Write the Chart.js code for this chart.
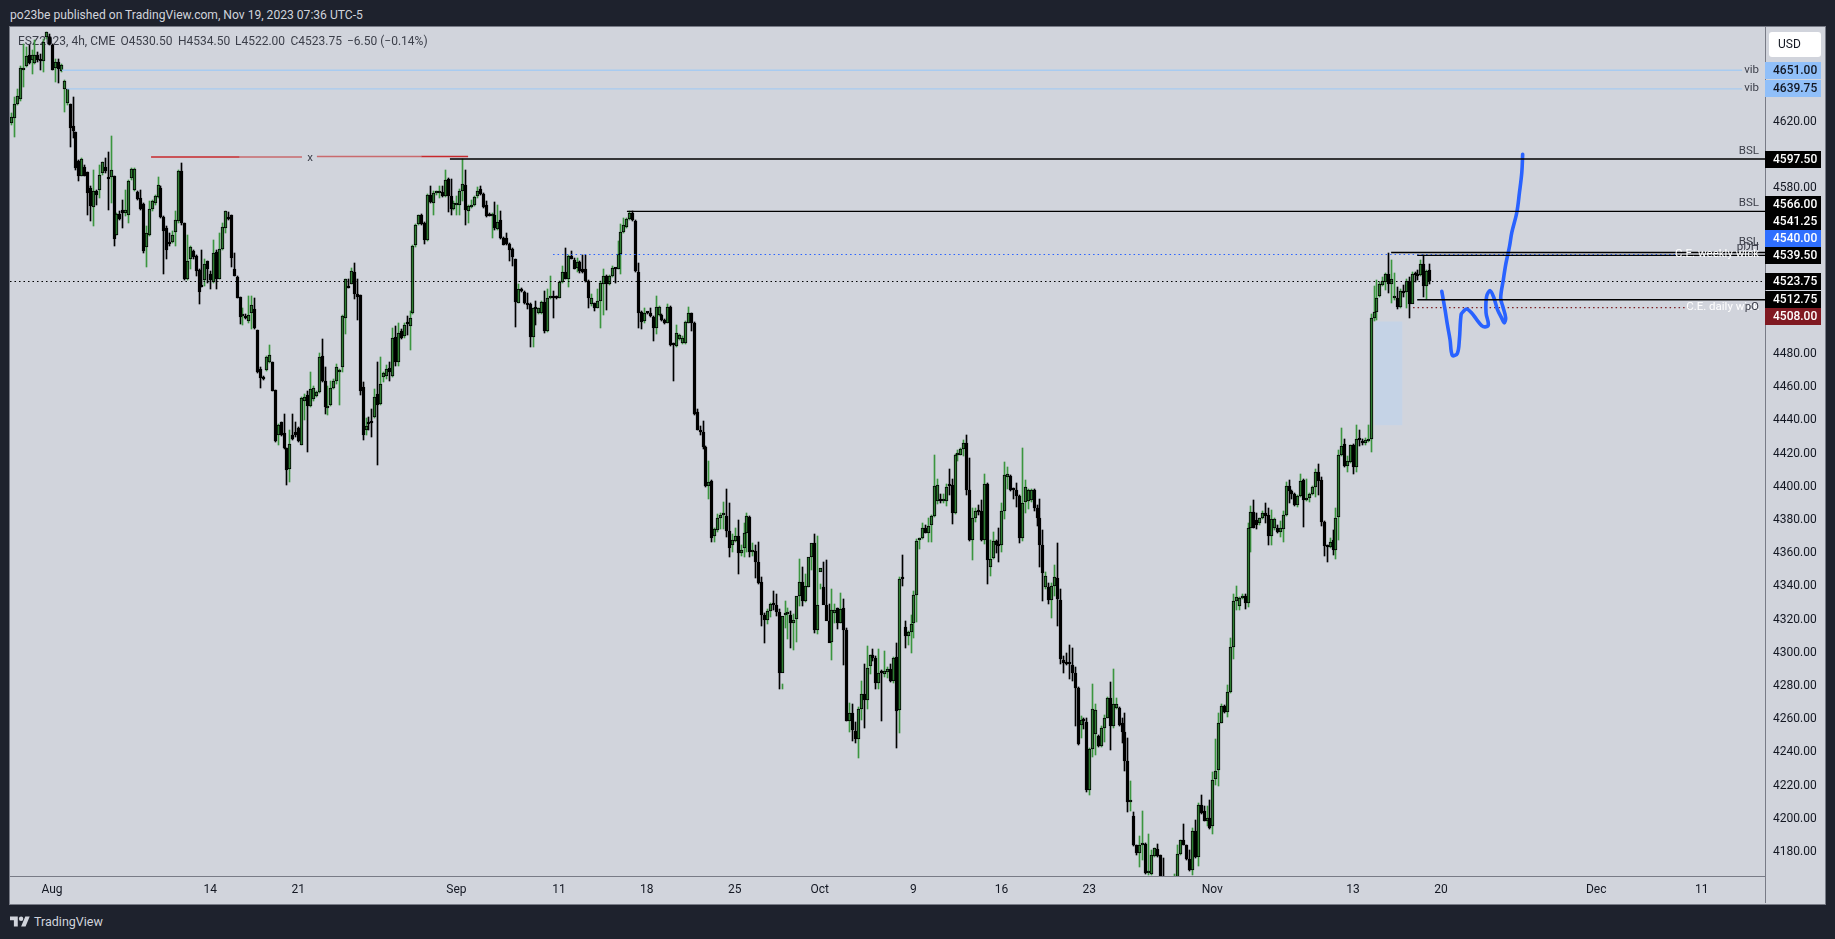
<!DOCTYPE html>
<html>
<head>
<meta charset="utf-8">
<title>ESZ2023 4h</title>
<script src="https://cdn.jsdelivr.net/npm/chart.js@4/dist/chart.umd.min.js"></script>
<style>
  html, body { margin: 0; padding: 0; width: 1835px; height: 939px; overflow: hidden; background: #1e222d; font-family: Roboto, "Open Sans", sans-serif; }
  #top { position: absolute; left: 10px; top: 6px; color: #d1d4dc; font-size: 12.1px; line-height: 18px; white-space: nowrap; }
  #pane { position: absolute; left: 9px; top: 26px; width: 1815px; height: 877px; border: 1px solid #787b86; background: #d1d4dc; }
  #chart { display: block; background: #d1d4dc; }
  #logo { position: absolute; left: 10px; top: 914px; }
  #brand { position: absolute; left: 34px; top: 912px; color: #d1d4dc; font-size: 12.5px; line-height: 20px; }
</style>
</head>
<body>
<div id="top">po23be published on TradingView.com, Nov 19, 2023 07:36 UTC-5</div>
<div id="pane"><canvas id="chart" width="1814" height="876"></canvas></div>
<svg id="logo" width="20" height="16" viewBox="0 0 36 28"><path fill="#d1d4dc" d="M14 22H7V11H0V4h14v18zM28 22h-8l7.5-18h8L28 22z"/><circle fill="#d1d4dc" cx="20" cy="8" r="4"/></svg>
<div id="brand">TradingView</div>
<script>
// 4h candles
const opens = [
4619,4622,4630.5,4633.5,4651,4653.5,4660,4657,4655.5,4660,
4657,4656.5,4671,4671,4666,4652.5,4656,4650.5,4640,4631.5,
4630.5,4617.5,4614,4596.5,4587.5,4593,4590,4580,4568.5,4578.5,
4579,4589,4592.5,4586.5,4586.5,4587.5,4552,4564.5,4567,4565,
4563.5,4586,4579,4577.5,4574,4570.5,4544.5,4551.5,4567.5,4571,
4574.5,4580,4562.5,4556,4547.5,4547.5,4553.5,4560,4590.5,4559,
4525.5,4537.5,4542,4539,4530.5,4521.5,4524.5,4536,4528.5,4523.5,
4541.5,4525.5,4543.5,4556,4562.5,4564,4531.5,4526.5,4514.5,4503,
4503,4500,4505,4507,4494.5,4471,4466.5,4470.5,4475,4475.5,
4458.5,4431,4439,4432.5,4423.5,4410.5,4431,4433,4435.5,4425.5,
4452,4455.5,4449,
4453,4455,4457,4479,4464,4447.5,4449.5,4459.5,4463.5,4469,
4472,4502,4521,4522.5,4529.5,4516,4515.5,4460,4434,4438.5,
4439,4442,4456,4450,4466.5,4467,4471.5,4467,4490.5,4475.5,
4494,4491,4498.5,4497,4504.5,4545.5,4558.5,4564,4559,4548.5,
4576,4571,4577,4577,4577.5,4575,4585.5,4575,4567.5,4570,
4570,4578,4582,4566.5,4568.5,4570,4575,4579.5,4576.5,4570,
4563.5,4563,4563.5,4555.5,4560.5,4550,4550,4546.5,4543.5,4537.5,
4511,4519,4517.5,4510,4510,4490.5,4507.5,4504.5,4504.5,4511.5,
4494,4513.5,4514,4514,4514,4523.5,4529.5,4525.5,4539,4536.5,
4532,4535.5,4531.5,4531.5,4524,4510,4510.5,4508,4512,4522.5,
4527,4522,4527,4532,4531.5,4540.5,4553.5,4556.5,4561.5,4565,
4560,4529.5,4505.5,4500,4505,4505,4502.5,4495.5,4503.5,4503.5,
4500.5,4499,4508.5,4486,4485,4489,4486.5,4486.5,4499,4504.5,
4498.5,4445,4434.5,4433,4424,4400.5,4403.5,4370.5,4374,4381.5,
4383,4382.5,4373.5,4365,4367.5,4370.5,4360,4363,4372,4382,
4361,4361.5,4354.5,4342.5,4323,4320,4325.5,4330,4329,4324.5,
4288,4323,4323.5,4323,4318,4320.5,4334.5,4342.5,4331.5,4339.5,
4358,4366.5,4313.5,4349,4339.5,4329,4319,4306.5,4324,4327,
4318,4327,4313.5,4259,4263.5,4253,4248,4266,4275,4271.5,
4292,4298.5,4297,4282,4288.5,4287.5,4288.5,4290.5,4283,4297.5,
4265.5,4345.5,4315.5,4310,4312.5,4318,4335,
4368,4369,4375.5,4372.5,4377,4382.5,4391.5,4392,4391.5,4391.5,
4401,4401,4384,4419.5,4419.5,4423,4426.5,4398,4368,4381,
4385.5,4385.5,4368,4402,4351.5,4357,4367.5,4365,4365,4385.5,
4406,4406.5,4398.5,4398,4394.5,4369,4391,4391.5,4392,4398,
4387,4381,4365,4339.5,4339.5,4332,4340,4345,4332,4295.5,
4294,4294,4293,4288,4279,4256.5,4259.5,4258.5,4217.5,4242,
4251,4250,4244,4254.5,4261,4273,4256,4267,4267,4257.5,
4252.5,4235,4210,4202,4184,4179.5,4184,4185,4167.5,4167,
4177.5,4182,4178,4165,4160,4155,4158,4159,4162,4179,
4187,4184,4176,4169,4193,4177,4208.5,4204.5,4199,4200.5,
4195.5,4224,4229.5,4258,4268,4264.5,4276.5,4303.5,4331.5,4328,
4333,4334,4330,4375.5,4385,4380,4378,4381,4384,4383,
4370.5,4375.5,4375.5,4373,4374.5,4383,4400.5,4397.5,4395.5,4389,
4394.5,4404,4392,4393.5,4395.5,4400,4409,4404,4379,4364.5,
4363.5,4368,4362,4382,4419.5,4426,4412.5,4415,4425,4412,
4428.5,4427.5,4426.5,4427.5,4429,4502,4505.5,4515,4521.5,4523.5,
4528,4522,4514,4514,4508.5,4518,4517.5,4524,4510,4528,
4527.5,4527.5,4534,4521,4530.5
];
const highs = [
4625,4635,4640,4653.5,4667,4665,4666,4663,4669,4662,
4661,4670,4674,4673,4667,4658,4658,4655,4645,4640,
4630.5,4635,4614,4597,4598,4594,4590,4581,4591,4579,
4594,4596,4598,4602,4611.5,4587.5,4565,4566,4573,4579,
4585,4592,4592,4578,4579,4571,4557,4572,4573,4576,
4586.5,4581,4563,4557,4553,4554,4566,4591,4595,4559,
4552,4545,4542.5,4539.5,4531,4542.5,4537,4536,4530,4549,
4543,4553,4559,4566.5,4565.5,4564,4541,4527,4514.5,4508,
4504,4515,4515,4514,4494.5,4472,4467,4479,4485.5,4475.5,
4458.5,4438,4439,4444,4423.5,4434,4444,4439,4436,4454,
4456,4458,4469.5,
4461,4458,4480.5,4489,4472,4461,4463.5,4465,4474,4471,
4503.5,4525.5,4525.5,4532,4535,4525.5,4515.5,4463,4441.5,4442,
4447,4459,4475.5,4478,4469,4473.5,4475,4495.5,4497,4498.5,
4495,4498.5,4503,4506,4545.5,4558.5,4564,4564.5,4559.5,4576.5,
4581,4578,4578,4581.5,4581.5,4591,4586,4585.5,4572,4575,
4579.5,4597.5,4591,4570,4573,4575,4580.5,4581.5,4577,4572,
4565,4565,4571.5,4570,4566.5,4550.5,4553,4547,4544,4537.5,
4522,4520,4518,4517,4510.5,4508,4512,4508,4512,4518,
4519,4527,4518,4515,4524,4533,4544,4539.5,4542,4538,
4538,4536,4539.5,4540,4524.5,4516,4511,4519,4524,4531,
4527.5,4527.5,4533,4532,4548,4558.5,4562,4562,4566,4566,
4560.5,4535,4506,4507.5,4505.5,4508,4503,4515,4509,4504,
4501,4510,4509,4486.5,4497.5,4492,4491,4500,4508.5,4505,
4499.5,4447,4436.5,4439.5,4424.5,4415.5,4404,4375,4383.5,4384.5,
4391,4399,4390,4371.5,4375,4380,4365,4378.5,4384,4382.5,
4366,4365,4367,4345.5,4324,4326.5,4330,4337,4335.5,4326.5,
4278,4331,4327,4325,4323.5,4329,4356.5,4351.5,4347.5,4344,
4359.5,4371.5,4370.5,4341.5,4354.5,4356,4329.5,4338.5,4329.5,4327,
4336,4332.5,4315,4270,4269,4258.5,4267.5,4283,4293.5,4304,
4299,4302.5,4298,4302.5,4289.5,4301,4291.5,4293.5,4297.5,4306,
4345.5,4359,4319,4313,4323,4337,4368.5,
4369.5,4378,4377,4381.5,4383,4419.5,4404.5,4396,4395.5,4402,
4411,4404.5,4420,4422.5,4423.5,4428,4431,4417.5,4387,4387,
4389,4392,4408,4402.5,4368,4373,4368,4375,4390,4415,
4412,4407,4399.5,4402.5,4395,4423.5,4404,4399,4399,4399,
4389,4393,4374,4349,4342,4342,4353,4366.5,4338.5,4298,
4300,4305,4303,4291.5,4279.5,4262,4260.5,4260.5,4242.5,4281,
4269.5,4250.5,4256,4262.5,4273.5,4282.5,4290,4273,4267.5,4260.5,
4263.5,4248.5,4223,4204,4184.5,4189.5,4205,4185.5,4191,4181,
4182.5,4185,4178.5,4176.5,4164,4163,4164,4167,4184,4187.5,
4197,4184.5,4181.5,4194.5,4199.5,4209.5,4214.5,4207.5,4207.5,4211.5,
4228.5,4248,4264,4269.5,4268.5,4280.5,4309,4335.5,4340,4333.5,
4335.5,4335.5,4378.5,4388.5,4392,4384,4381.5,4385.5,4390,4387,
4386,4381,4377,4379.5,4385.5,4403,4404,4398,4396.5,4395,
4408,4405,4405,4396.5,4400.5,4410.5,4413.5,4406,4379.5,4365,
4369,4374,4387,4422.5,4435.5,4429,4418.5,4425.5,4426,4437,
4434.5,4429,4429.5,4437.5,4504,4521,4524.5,4523.5,4526.5,4529,
4541,4536.5,4529,4520.5,4519,4521.5,4525.5,4526.5,4529.5,4529.5,
4530.5,4536.5,4539.5,4530.5,4534.5
];
const lows = [
4618,4610.5,4630,4632.5,4641,4653,4654.5,4649,4655,4656,
4651,4650,4670,4666,4651,4644,4643.5,4650,4626,4630,
4605,4610,4591,4584,4587,4587,4564,4560,4557,4570,
4574,4588,4589,4567,4571,4545,4551.5,4561,4556,4563,
4559,4585,4578,4573,4567,4541,4532.5,4551,4566,4570,
4574,4562,4528.5,4537,4545,4547,4545,4559,4558,4524.5,
4524.5,4531,4537,4527,4510,4520.5,4521,4523,4519,4523,
4519,4525,4543,4553,4561,4532.5,4527,4514,4498,4497.5,
4501,4499,4495,4495,4468.5,4459.5,4464.5,4470,4474.5,4457.5,
4427,4425.5,4430.5,4423,4401,4403,4428,4430,4427,4425,
4440,4421,4448,
4452,4454,4456.5,4463,4444,4443.5,4449,4459,4462,4449.5,
4469.5,4492,4520,4522,4513,4500.5,4455.5,4428,4431,4434,
4430,4441.5,4413,4449.5,4463,4465,4464,4466.5,4473,4473,
4489,4490,4491.5,4482.5,4504,4544.5,4558,4558,4546.5,4548,
4571,4564,4576,4574,4574.5,4574.5,4565.5,4563.5,4567,4564,
4564,4572,4557.5,4559,4568,4569.5,4574,4576,4568,4562.5,
4563,4550,4555,4555,4549.5,4545.5,4545.5,4536,4533,4496.5,
4510.5,4517.5,4510,4507,4484.5,4484.5,4497.5,4504,4504,4493,
4493.5,4513,4501.5,4513,4513.5,4523,4525,4520.5,4537,4531,
4529.5,4529,4529,4523.5,4508,4509,4506,4507.5,4496,4503.5,
4506.5,4521.5,4526.5,4523,4531,4528.5,4553,4556,4561,4560,
4529.5,4496,4495,4499,4504,4502.5,4488,4492,4503,4500,
4498,4498.5,4485,4463.5,4484,4488.5,4486,4486,4498.5,4494,
4443.5,4434,4431.5,4423,4400,4393,4367,4367,4373,4374.5,
4374.5,4370,4358,4361,4367,4347.5,4358.5,4357.5,4360.5,4358,
4358.5,4345,4341.5,4316,4306,4317.5,4321.5,4326,4322,4278,
4281,4315,4308.5,4303,4301.5,4306.5,4328.5,4328.5,4330.5,4339.5,
4350,4312,4311.5,4338.5,4339,4327,4309.5,4296,4318,4314.5,
4318,4293,4259,4252.5,4247,4245.5,4236.5,4259.5,4255,4266,
4287,4295,4278,4278.5,4259,4285.5,4285,4282.5,4282,4243,
4252,4340.5,4303,4304.5,4300,4309,4318.5,
4362.5,4368.5,4372,4367,4367,4382,4389.5,4390,4390.5,4388.5,
4395,4377.5,4383.5,4415.5,4419,4418.5,4395,4367.5,4356,4379,
4383,4367.5,4365.5,4341.5,4346.5,4356.5,4360,4355,4361,4380.5,
4399,4397.5,4393,4388,4366,4367.5,4384.5,4386.5,4391,4385.5,
4376.5,4352,4331.5,4338.5,4329.5,4321,4334.5,4316,4293.5,4288,
4293,4284,4283,4256,4244.5,4248.5,4254,4216.5,4214.5,4237,
4238.5,4243.5,4243.5,4246.5,4260.5,4241.5,4255,4266,4256,4246,
4229,4204,4204.5,4183.5,4178,4171,4175,4167,4166.5,4166.5,
4177,4177,4165,4155,4152,4152,4156,4156.5,4160,4178,
4184,4175.5,4168.5,4166.5,4176.5,4171.5,4203,4198.5,4195.5,4194,
4191,4220.5,4220,4257.5,4264,4261.5,4276,4296.5,4326,4326,
4332.5,4326.5,4327.5,4361,4375,4374.5,4377,4380.5,4378.5,4365,
4365,4374,4372.5,4370,4367,4382.5,4390,4393,4388.5,4388,
4394,4376,4391.5,4391,4395,4394,4395,4376.5,4358.5,4355,
4363,4359,4356.5,4368,4418.5,4412,4409,4414.5,4407.5,4409,
4424.5,4425.5,4425.5,4427,4421,4500,4500.5,4514.5,4521,4518.5,
4517,4511,4512.5,4507,4508,4514.5,4507.5,4502,4523,4523.5,
4524.5,4527,4514.5,4513,4522
];
const closes = [
4623,4630.5,4635.5,4652.5,4652.5,4659.5,4655.5,4660,4660,4657,
4656.5,4668,4674,4667,4651,4656,4652,4654,4644.5,4640,
4616,4614.5,4592,4587,4597.5,4587.5,4577,4569.5,4578.5,4576,
4588,4595.5,4590.5,4585.5,4591,4549.5,4564.5,4561.5,4565,4567,
4584.5,4591.5,4591.5,4573.5,4567.5,4542,4553,4567.5,4572,4575.5,
4582,4562.5,4554,4542.5,4546.5,4552,4561,4590.5,4559,4525.5,
4536,4544.5,4538.5,4530,4517.5,4520.5,4534,4531,4524.5,4541,
4525.5,4543.5,4556.5,4566,4561.5,4538,4527,4514,4502.5,4504,
4501.5,4503.5,4509.5,4495.5,4469,4465.5,4465,4478.5,4479.5,4458,
4427.5,4437.5,4431,4423.5,4410,4426,4429,4431,4427.5,4453.5,
4454,4449,4459,
4459.5,4457,4478,4464,4448,4448.5,4459.5,4463.5,4472,4470.5,
4503,4525,4520,4530,4516,4514.5,4458,4431,4436.5,4438,
4438.5,4454,4449.5,4462,4468.5,4471,4469,4489.5,4475,4493,
4490,4497.5,4498,4502,4545,4558,4564,4558.5,4548.5,4576,
4571.5,4577,4577.5,4577.5,4575,4585,4575,4567.5,4571,4571,
4578.5,4582.5,4567,4569,4570,4574.5,4578,4576.5,4568.5,4563,
4563,4563.5,4556,4559.5,4550,4546,4546.5,4543,4538.5,4511.5,
4519.5,4518,4510.5,4509.5,4490.5,4507.5,4507,4507.5,4511.5,4494,
4514,4514,4513.5,4513.5,4523.5,4529.5,4525.5,4539,4537.5,4531.5,
4535.5,4530,4529.5,4524,4514,4513.5,4507.5,4512,4523,4527,
4522.5,4527,4532,4531.5,4540.5,4553.5,4558,4561.5,4565,4560.5,
4530,4505,4499.5,4505,4504.5,4503,4495.5,4508.5,4508.5,4500.5,
4498.5,4508.5,4485.5,4485.5,4492.5,4491.5,4490,4499.5,4504.5,4499,
4444,4434.5,4433,4424,4400.5,4403,4369.5,4374.5,4381.5,4383,
4383,4373.5,4363,4368,4370.5,4360,4362,4372,4382.5,4361,
4362,4354.5,4342,4323,4320,4325.5,4329.5,4329,4324.5,4288,
4322,4324,4324,4318,4320,4334.5,4342.5,4331,4340,4358,
4366.5,4313.5,4329,4351,4329,4319,4306,4326,4326,4318,
4326.5,4313.5,4259,4263.5,4253.5,4248,4266,4275,4271.5,4291,
4298.5,4297,4282,4288,4288,4289,4290.5,4283,4297,4265,
4344.5,4344.5,4310,4312.5,4317.5,4335,4367.5,
4369,4375,4372.5,4376.5,4382.5,4400.5,4401,4391.5,4392,4400,
4400.5,4384,4419.5,4419.5,4423,4426.5,4398,4368,4381,4385.5,
4385,4368,4402,4356,4356.5,4367.5,4365,4364.5,4385.5,4407,
4408,4398,4398,4394.5,4369,4390,4400,4398,4398,4387,
4381,4365,4348,4346.5,4332,4340.5,4346,4332.5,4296.5,4294,
4293.5,4293.5,4288,4279,4245,4259.5,4259,4217.5,4242,4266,
4265.5,4244,4254.5,4261,4273,4256,4269.5,4269,4256.5,4252.5,
4235,4210,4210.5,4184,4179.5,4184,4185.5,4167.5,4167.5,4178,
4182.5,4177.5,4165.5,4160,4157,4159,4162,4164,4179,4187,
4184.5,4176,4169,4193,4177,4208.5,4203.5,4199,4200.5,4194.5,
4223.5,4229,4257.5,4268,4264.5,4276.5,4303.5,4331.5,4333.5,4333,
4334,4330,4375.5,4385,4375.5,4377,4381,4384,4382.5,4370.5,
4380.5,4380.5,4373,4375,4383,4400.5,4397.5,4395.5,4389,4394.5,
4403.5,4392,4393.5,4396,4400,4409,4403.5,4379,4364.5,4363.5,
4367,4362,4381.5,4419.5,4424.5,4412.5,4415.5,4425,4412,4429,
4428,4426.5,4428,4429,4502,4505.5,4514,4522,4524,4528,
4522,4525,4514,4508.5,4518,4517,4524,4510,4528.5,4527.5,
4527,4534,4521,4530,4523.75
];
const tickBars = [14,68,98,152,187,217,247,276,308,338,368,410,458,488,541,577];
const tickLabels = ['Aug','14','21','Sep','11','18','25','Oct','9','16','23','Nov','13','20','Dec','11'];
const priceTicks = [4620,4580,4480,4460,4440,4420,4400,4380,4360,4340,4320,4300,4280,4260,4240,4220,4200,4180];
const tagValues = [4651,4639.75,4597.5,4566,4541.25,4540,4539.5,4523.75,4512.75,4508];
const tagColors = ['#90bff9','#90bff9','#000000','#000000','#000000','#2f6fff','#000000','#000000','#000000','#801922'];
const tagTextColors = ['#131722','#131722','#ffffff','#ffffff','#ffffff','#ffffff','#ffffff','#ffffff','#ffffff','#ffffff'];
const tagTops = [35,53,124,169,186,203,220,246,264,281];
const levelPrices = [4651,4639.75,4597.5,4566,4541.25,4539.5,4512.75];
const levelStarts = [17.4,19.1,149.8,210.2,471,479.9,479.9];
const levelEnds = [590.8,590.8,598.6,598.6,598.6,598.6,598.6];
const levelColors = ['#a8cbf0','#a8cbf0','#000','#000','#000','#000','#000'];
const dottedPrices = [4523.75,4540,4508];
const dottedStarts = [-0.34,185,478.5];
const dottedEnds = [598.6,568.3,572.4];
const dottedColors = ['#000','#2962ff','#7b1f24'];
const redBars = [47.8,78,99.3,104.4,140,156];
const redPrices = [4598.7,4598.7,4598.7,4599,4599,4599];
const boxBar = 470.1;
const boxPrices = [4437.3,4499.5];
const drawnBars = [488.3,489.4,490.2,491.1,491.9,493.6,494.3,494.9,495.7,496.8,498.5,500.2,501.9,503.1,504.2,503.4,503.6,504.8,506.1,507.3,508.7,509.6,510.1,509.1,508.4,509.3,510.2,511.4,512.2,513.9,514.8,515.6,515.9];
const drawnPrices = [4517.8,4506.8,4497.8,4488.8,4479.2,4480.4,4488.8,4503.8,4505.8,4507.2,4504.8,4500.8,4497.2,4496.4,4497.8,4504.8,4514.8,4518.2,4513.8,4506.8,4501.8,4498.8,4501.8,4508.8,4513.8,4524.8,4534.8,4544.8,4553.3,4565.3,4577.3,4589.3,4600.3];

const FONT = 'Roboto, "Open Sans", sans-serif';
const BLACK = '#000000';
const GREEN_BODY = '#2e7d32';
const GREEN_WICK = '#3b963f';

const isUp = closes.map((c, i) => c >= opens[i]);

// horizontal levels, one line dataset each
function levelLine(x0, x1, price, color, dash, order) {
  return {
    type: 'line', data: [{ x: x0, y: price }, { x: x1, y: price }],
    borderColor: color, borderWidth: dash ? 1.2 : 1.4, borderDash: dash || [],
    pointRadius: 0, tension: 0, order
  };
}

const lineSets = [];
levelPrices.forEach((p, i) => lineSets.push(levelLine(levelStarts[i], levelEnds[i], p, levelColors[i], null, 0)));
dottedPrices.forEach((p, i) => lineSets.push(levelLine(dottedStarts[i], dottedEnds[i], p, dottedColors[i], [1.5, 3], 1)));
lineSets.push(levelLine(redBars[0], redBars[1], redPrices[0], '#c8282c', null, 0));
lineSets.push(levelLine(redBars[1], redBars[2], redPrices[1], '#c96a6e', null, 0));
lineSets.push(levelLine(redBars[3], redBars[4], redPrices[3], '#c96a6e', null, 0));
lineSets.push(levelLine(redBars[4], redBars[5], redPrices[4], '#c8282c', null, 0));

// pixel snapping so the thin candles stay crisp
const snapBars = {
  id: 'snapBars',
  afterDatasetsUpdate(chart) {
    chart.data.datasets.forEach((ds, i) => {
      if (!ds.snap) return;
      chart.getDatasetMeta(i).data.forEach(el => {
        el.x = Math.round(el.x) + 0.5;
        el.y = Math.round(el.y);
        el.base = Math.round(el.base);
        if (el.base === el.y) el.base = el.y + 1;
        el.height = el.base - el.y;
      });
    });
  }
};

const legendText = {
  id: 'legendText',
  beforeDatasetsDraw(chart) {
    const c = chart.ctx;
    c.save();
    c.font = '12px ' + FONT;
    c.fillStyle = '#3c3f4a';
    c.textBaseline = 'middle';
    c.fillText('ESZ2023, 4h, CME', 8, 15);
    c.fillText('O4530.50', 110.5, 15);
    c.fillText('H4534.50', 168, 15);
    c.fillText('L4522.00', 225, 15);
    c.fillText('C4523.75', 280.5, 15);
    c.fillText('\u22126.50 (\u22120.14%)', 337, 15);
    c.restore();
  }
};

const overlayText = {
  id: 'overlayText',
  afterDatasetsDraw(chart) {
    const c = chart.ctx;
    c.save();
    c.fillStyle = '#787b86';
    c.fillRect(1755, 849, 1, 27);
    c.textBaseline = 'middle';
    c.font = '11.5px ' + FONT;
    c.fillStyle = '#3c3f4a';
    c.textAlign = 'right';
    c.fillText('vib', 1749, 43);
    c.fillText('vib', 1749, 61.5);
    c.fillText('BSL', 1749, 124);
    c.fillText('BSL', 1749, 176);
    c.fillText('BSL', 1749, 215.5);
    c.fillText('pDH', 1749, 220);
    c.fillStyle = '#ffffff';
    c.fillText('C.E. weekly wick', 1749, 227.5);
    c.fillText('C.E. daily wick', 1749, 280.5);
    c.fillStyle = '#3c3f4a';
    c.fillText('pO', 1749, 280);
    c.textAlign = 'center';
    c.fillText('x', 300, 131);
    c.textAlign = 'left';
    c.font = '500 12px ' + FONT;
    tagValues.forEach((v, i) => {
      c.fillStyle = tagColors[i];
      c.fillRect(1755, tagTops[i], 56, 17);
      c.fillStyle = tagTextColors[i];
      c.fillText(v.toFixed(2), 1763, tagTops[i] + 9);
    });
    c.fillStyle = '#ffffff';
    c.beginPath();
    c.roundRect(1759, 5, 52, 25, 3);
    c.fill();
    c.fillStyle = '#131722';
    c.font = '12px ' + FONT;
    c.fillText('USD', 1768, 18);
    c.restore();
  }
};

new Chart(document.getElementById('chart'), {
  data: {
    datasets: [
      {
        type: 'bar', data: [{ x: boxBar, y: boxPrices }],
        backgroundColor: '#c5d3e6', barThickness: 27, grouped: false, order: 5
      },
      {
        type: 'bar', snap: true,
        data: highs.map((h, i) => ({ x: i, y: [lows[i], h] })),
        backgroundColor: isUp.map(u => u ? GREEN_WICK : BLACK),
        barThickness: 1, grouped: false, order: 3
      },
      {
        type: 'bar', snap: true,
        data: opens.map((o, i) => ({ x: i, y: [o, closes[i]] })),
        backgroundColor: isUp.map(u => u ? GREEN_BODY : BLACK),
        borderColor: BLACK, borderWidth: 1, borderSkipped: false,
        barThickness: 3, minBarLength: 2, grouped: false, order: 2
      },
      ...lineSets,
      {
        type: 'line',
        data: drawnBars.map((x, i) => ({ x, y: drawnPrices[i] })),
        borderColor: '#2962ff', borderWidth: 3.6, pointRadius: 0, tension: 0.35,
        borderCapStyle: 'round', borderJoinStyle: 'round', order: 0
      }
    ]
  },
  options: {
    responsive: false,
    animation: false,
    devicePixelRatio: 1,
    events: [],
    layout: { autoPadding: false, padding: 0 },
    plugins: { legend: { display: false }, tooltip: { enabled: false } },
    scales: {
      x: {
        type: 'linear', min: -0.34, max: 598.6, offset: false, bounds: 'data',
        grid: { display: false, offset: false, drawTicks: false },
        border: { display: true, color: '#787b86', width: 1 },
        afterBuildTicks: axis => { axis.ticks = tickBars.map(value => ({ value })); },
        afterFit: axis => { axis.height = 27; axis.paddingLeft = 0; axis.paddingRight = 0; },
        ticks: {
          autoSkip: false, maxRotation: 0, padding: 7, color: '#131722',
          font: { family: FONT, size: 12 },
          callback: v => tickLabels[tickBars.indexOf(v)]
        }
      },
      y: {
        type: 'linear', position: 'right', min: 4165.6, max: 4677.05,
        grid: { display: false, drawTicks: false },
        border: { display: true, color: '#787b86', width: 1 },
        afterBuildTicks: axis => { axis.ticks = priceTicks.map(value => ({ value })); },
        afterFit: axis => { axis.width = 59; axis.paddingTop = 0; axis.paddingBottom = 0; },
        ticks: {
          autoSkip: false, padding: 8, color: '#131722',
          font: { family: FONT, size: 12 },
          callback: v => v.toFixed(2)
        }
      }
    }
  },
  plugins: [snapBars, legendText, overlayText]
});
</script>
</body>
</html>
